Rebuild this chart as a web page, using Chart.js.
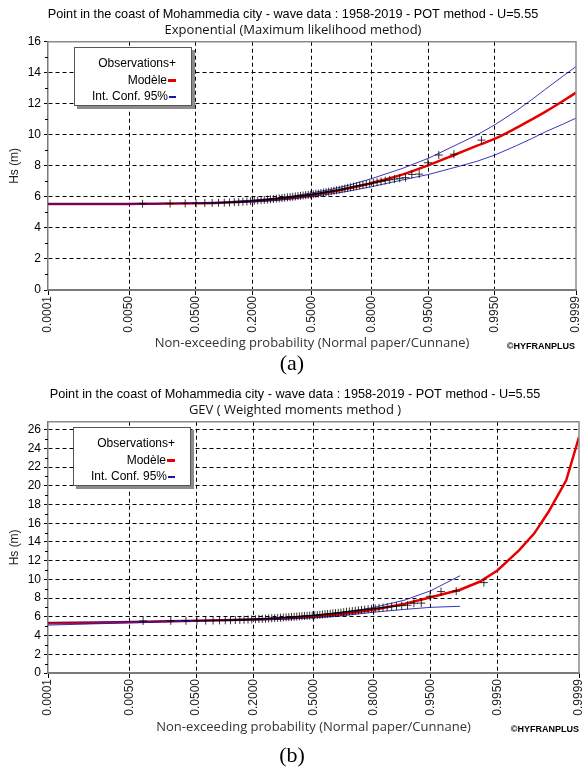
<!DOCTYPE html>
<html lang="fr">
<head>
<meta charset="utf-8">
<title>Mohammedia - HYFRAN</title>
<script src="https://cdn.jsdelivr.net/npm/chart.js@4.4.1/dist/chart.umd.min.js"></script>
<style>
    body{margin:0;background:#fff;}
    .pagina{position:relative;width:584px;height:769px;overflow:hidden;background:#fff;}
    .caja{position:absolute;left:0;width:584px;}
    .leyenda{position:absolute;width:101px;height:50px;padding:7px 15px 0 0;background:#fff;border:1px solid #555;box-shadow:3px 3px 0 #8c8c8c;font:12px "Liberation Sans",Arial,sans-serif;line-height:16.5px;text-align:right;color:#000;}
    .rojo{display:inline-block;width:8px;height:2.5px;background:#e60000;vertical-align:middle;margin-left:1px;}
    .azul{display:inline-block;width:7px;height:1.5px;background:#1414b0;vertical-align:middle;margin-left:1px;}
    .rotulo{position:absolute;left:0;width:584px;text-align:center;font:22px "Liberation Serif",serif;line-height:24px;color:#000;}
</style>
</head>
<body>
<div class="pagina">

    <div class="caja" style="top:0;height:358px;"><canvas id="graficoExp"></canvas></div>
    <div class="leyenda" style="left:74px;top:47px;">Observations+<br>Modèle<span class="rojo"></span><br>Int. Conf. 95%<span class="azul"></span></div>
    <div class="rotulo" style="top:351px;">(a)</div>

    <div class="caja" style="top:380px;height:362px;"><canvas id="graficoGev"></canvas></div>
    <div class="leyenda" style="left:73px;top:427px;">Observations+<br>Modèle<span class="rojo"></span><br>Int. Conf. 95%<span class="azul"></span></div>
    <div class="rotulo" style="top:743px;">(b)</div>

</div>
<script>

// Eje X (papel normal)

const probTicksX = [0.0001, 0.005, 0.05, 0.2, 0.5, 0.8, 0.95, 0.995, 0.9999];

const etiquetasX = ["0.0001", "0.0050", "0.0500", "0.2000", "0.5000", "0.8000", "0.9500", "0.9950", "0.9999"];

// Eje Y

const ticksYExp = [0, 2, 4, 6, 8, 10, 12, 14, 16];

const ticksYGev = [0, 2, 4, 6, 8, 10, 12, 14, 16, 18, 20, 22, 24, 26];

// Observaciones (Cunnane)

const probObservaciones = [
    0.0085, 0.0228, 0.0370, 0.0513, 0.0655, 0.0798, 0.0940, 0.1083, 0.1225, 0.1368,
    0.1510, 0.1652, 0.1795, 0.1937, 0.2080, 0.2222, 0.2365, 0.2507, 0.2650, 0.2792,
    0.2934, 0.3077, 0.3219, 0.3362, 0.3504, 0.3647, 0.3789, 0.3932, 0.4074, 0.4217,
    0.4359, 0.4501, 0.4644, 0.4786, 0.4929, 0.5071, 0.5214, 0.5356, 0.5499, 0.5641,
    0.5783, 0.5926, 0.6068, 0.6211, 0.6353, 0.6496, 0.6638, 0.6781, 0.6923, 0.7066,
    0.7208, 0.7350, 0.7493, 0.7635, 0.7778, 0.7920, 0.8063, 0.8205, 0.8348, 0.8490,
    0.8632, 0.8775, 0.8917, 0.9060, 0.9202, 0.9345, 0.9487, 0.9630, 0.9772, 0.9915
];

const hsObservaciones = [
    5.56, 5.57, 5.58, 5.59, 5.60, 5.61, 5.62, 5.63, 5.64, 5.66,
    5.67, 5.69, 5.71, 5.73, 5.75, 5.77, 5.79, 5.81, 5.83, 5.85,
    5.87, 5.89, 5.91, 5.93, 5.95, 5.97, 5.99, 6.01, 6.03, 6.05,
    6.07, 6.09, 6.11, 6.13, 6.15, 6.17, 6.20, 6.22, 6.25, 6.28,
    6.31, 6.34, 6.37, 6.40, 6.43, 6.46, 6.50, 6.54, 6.58, 6.62,
    6.66, 6.70, 6.74, 6.78, 6.82, 6.86, 6.90, 6.95, 7.00, 7.05,
    7.10, 7.15, 7.20, 7.24, 7.45, 7.47, 8.20, 8.70, 8.75, 9.66
];

// Modelo ajustado

const probModelo = [
    0.0001, 0.001, 0.005, 0.01, 0.02, 0.05, 0.1, 0.2, 0.3, 0.4, 0.5, 0.6,
    0.7, 0.8, 0.9, 0.95, 0.98, 0.99, 0.995, 0.998, 0.999, 0.9995, 0.9998, 0.9999
];

const modeloExp = [
    5.55, 5.55, 5.55, 5.56, 5.57, 5.59, 5.63, 5.72, 5.83, 5.96, 6.12, 6.31,
    6.55, 6.90, 7.45, 8.05, 8.80, 9.30, 9.75, 10.45, 10.98, 11.50, 12.20, 12.72
];

const icSupExp = [
    5.55, 5.55, 5.55, 5.56, 5.57, 5.60, 5.66, 5.79, 5.92, 6.07, 6.26, 6.47,
    6.76, 7.18, 7.85, 8.50, 9.40, 10.00, 10.65, 11.55, 12.25, 12.95, 13.80, 14.40
];

const icInfExp = [
    5.55, 5.55, 5.55, 5.55, 5.56, 5.58, 5.61, 5.67, 5.76, 5.88, 6.02, 6.18,
    6.38, 6.66, 7.10, 7.45, 7.95, 8.30, 8.70, 9.30, 9.75, 10.20, 10.70, 11.08
];

const modeloGev = [
    5.32, 5.38, 5.45, 5.49, 5.53, 5.59, 5.64, 5.72, 5.80, 5.90, 6.02, 6.18,
    6.42, 6.77, 7.40, 8.10, 8.90, 9.75, 10.96, 13.10, 14.90, 17.20, 20.60, 25.20
];

const probIcGev = [
    0.0001, 0.001, 0.005, 0.01, 0.02, 0.05, 0.1, 0.2, 0.3, 0.4, 0.5, 0.6,
    0.7, 0.8, 0.9, 0.95, 0.98
];

const icSupGev = [
    5.42, 5.45, 5.50, 5.52, 5.56, 5.62, 5.68, 5.78, 5.88, 6.00, 6.15, 6.35,
    6.60, 7.00, 7.80, 8.80, 10.40
];

const icInfGev = [
    5.12, 5.25, 5.35, 5.40, 5.46, 5.54, 5.60, 5.66, 5.72, 5.80, 5.90, 6.02,
    6.22, 6.50, 6.80, 7.02, 7.13
];


// Inversa de la normal (papel de probabilidad)

function probit(p){

    const a = [-3.969683028665376e+01, 2.209460984245205e+02, -2.759285104469687e+02, 1.383577518672690e+02, -3.066479806614716e+01, 2.506628277459239e+00];
    const b = [-5.447609879822406e+01, 1.615858368580409e+02, -1.556989798598866e+02, 6.680131188771972e+01, -1.328068155288572e+01];
    const c = [-7.784894002430293e-03, -3.223964580411365e-01, -2.400758277161838e+00, -2.549732539343734e+00, 4.374664141464968e+00, 2.938163982698783e+00];
    const d = [7.784695709041462e-03, 3.224671290700398e-01, 2.445134137142996e+00, 3.754408661907416e+00];

    const cola = function(q){
        return (((((c[0]*q+c[1])*q+c[2])*q+c[3])*q+c[4])*q+c[5]) / ((((d[0]*q+d[1])*q+d[2])*q+d[3])*q+1);
    };

    if(p < 0.02425){
        return cola(Math.sqrt(-2*Math.log(p)));
    }

    if(p > 1 - 0.02425){
        return -cola(Math.sqrt(-2*Math.log(1-p)));
    }

    const q = p - 0.5;
    const r = q*q;

    return (((((a[0]*r+a[1])*r+a[2])*r+a[3])*r+a[4])*r+a[5])*q / (((((b[0]*r+b[1])*r+b[2])*r+b[3])*r+b[4])*r+1);

}

// Escala "papel normal": valores en probabilidad, posición lineal en probit

class EscalaNormal extends Chart.LinearScale {

    static id = "normalpaper";

    static defaults = {};

    determineDataLimits(){
        this.min = probit(this.options.min);
        this.max = probit(this.options.max);
    }

    buildTicks(){
        this.start = this.min;
        this.end = this.max;
        return probTicksX.map(function(v){ return { value: v }; });
    }

    getPixelForValue(value){
        if(value === null || value === undefined) return NaN;
        return super.getPixelForValue(probit(value));
    }

}

Chart.register(EscalaNormal);


// Marco, ticks menores y sello

const marco = {

    id: "marco",

    afterDraw(chart, args, opts){

        const ctx = chart.ctx;
        const a = chart.chartArea;
        const y = chart.scales.y;

        ctx.save();

        ctx.strokeStyle = "#8a8a8a";
        ctx.lineWidth = 1.5;
        ctx.beginPath();
        ctx.moveTo(a.left, a.top);
        ctx.lineTo(a.right, a.top);
        ctx.lineTo(a.right, a.bottom);
        ctx.stroke();

        ctx.strokeStyle = "#000";
        ctx.lineWidth = 1;
        const v = y.ticks.map(function(t){ return t.value; });
        for(let i = 0; i < v.length - 1; i++){
            const yy = Math.round(y.getPixelForValue((v[i] + v[i+1]) / 2)) + 0.5;
            ctx.beginPath();
            ctx.moveTo(a.left - 3, yy);
            ctx.lineTo(a.left, yy);
            ctx.stroke();
        }

        ctx.fillStyle = "#000";
        ctx.font = 'bold 9px "Liberation Sans", Arial, sans-serif';
        ctx.textAlign = "right";
        ctx.textBaseline = "middle";
        ctx.fillText("©HYFRANPLUS", chart.width - opts.derecha, opts.selloY);

        ctx.restore();

    }

};


function puntos(xs, ys){
    return xs.map(function(x, i){ return { x: x, y: ys[i] }; });
}

Chart.defaults.font.family = '"Liberation Sans", Arial, sans-serif';
Chart.defaults.font.size = 12;
Chart.defaults.color = "#000";


function grafico(idCanvas, p){

    return new Chart(document.getElementById(idCanvas), {

        type: "line",

        plugins: [marco],

        data: {

            datasets: [

                {
                    label: "Observations",
                    data: puntos(probObservaciones, hsObservaciones),
                    showLine: false,
                    pointStyle: "cross",
                    pointRadius: 4,
                    pointBorderWidth: 1,
                    pointBorderColor: "rgba(0,0,0,.8)"
                },

                {
                    label: "Int. Conf. 95% sup",
                    data: puntos(p.probIc, p.icSup),
                    borderColor: "rgba(20,20,176,.85)",
                    borderWidth: 1,
                    pointRadius: 0
                },

                {
                    label: "Int. Conf. 95% inf",
                    data: puntos(p.probIc, p.icInf),
                    borderColor: "rgba(20,20,176,.85)",
                    borderWidth: 1,
                    pointRadius: 0
                },

                {
                    label: "Modèle",
                    data: puntos(probModelo, p.modelo),
                    borderColor: "#e60000",
                    borderWidth: 2.5,
                    pointRadius: 0,
                    cubicInterpolationMode: p.suave ? "monotone" : "default",
                    tension: 0
                }

            ]

        },

        options: {

            responsive: true,

            maintainAspectRatio: false,

            animation: false,

            events: [],

            layout: {
                padding: { left: 10, right: p.derecha, top: 0, bottom: 0 }
            },

            plugins: {

                legend: { display: false },

                tooltip: { enabled: false },

                title: {
                    display: true,
                    text: "Point in the coast of Mohammedia city - wave data : 1958-2019 - POT method - U=5.55",
                    color: "#000",
                    font: { size: 12.7, weight: "normal", lineHeight: 1.3 },
                    padding: { top: 6, bottom: 0 }
                },

                subtitle: {
                    display: true,
                    text: p.subtitulo,
                    color: "#111",
                    font: { family: '"Open Sans", sans-serif', size: 13, lineHeight: 1.25 },
                    padding: { top: 0, bottom: 3 }
                },

                marco: { derecha: p.derecha + 1, selloY: p.selloY }

            },

            scales: {

                x: {

                    type: "normalpaper",

                    min: 0.0001,

                    max: 0.9999,

                    afterFit: function(s){
                        s.height = p.altoEjeX;
                        s.paddingLeft = 0;
                        s.paddingRight = 0;
                    },

                    ticks: {
                        autoSkip: false,
                        minRotation: 90,
                        maxRotation: 90,
                        padding: 1,
                        color: "#222",
                        callback: function(v, i){ return etiquetasX[i]; }
                    },

                    grid: {
                        color: function(c){
                            return (c.index === 0 || c.index === probTicksX.length - 1) ? "rgba(0,0,0,0)" : "#000";
                        },
                        tickLength: 5,
                        tickColor: "#000"
                    },

                    border: { color: "#7a7a7a", width: 2, dash: [4, 3] },

                    title: {
                        display: true,
                        text: "Non-exceeding probability (Normal paper/Cunnane)",
                        color: "#333",
                        font: { family: '"Open Sans", sans-serif', size: 13 },
                        padding: { top: 0, bottom: 7 }
                    }

                },

                y: {

                    min: 0,

                    max: p.maxY,

                    afterBuildTicks: function(s){
                        s.ticks = p.ticksY.map(function(v){ return { value: v }; });
                    },

                    afterFit: function(s){
                        s.width = 38;
                    },

                    ticks: { autoSkip: false, padding: 3, color: "#000" },

                    grid: {
                        color: function(c){
                            return (c.tick && (c.tick.value === 0 || c.tick.value === p.maxY)) ? "rgba(0,0,0,0)" : "#000";
                        },
                        tickLength: 4,
                        tickColor: "#000"
                    },

                    border: { color: "#7a7a7a", width: 1.5, dash: [4, 3] },

                    title: {
                        display: true,
                        text: "Hs (m)",
                        color: "#222",
                        padding: { top: -3, bottom: 0 }
                    }

                }

            }

        }

    });

}


// (a) Exponencial

grafico("graficoExp", {
    subtitulo: "Exponential (Maximum likelihood method)",
    modelo: modeloExp,
    probIc: probModelo,
    icSup: icSupExp,
    icInf: icInfExp,
    ticksY: ticksYExp,
    maxY: 16,
    altoEjeX: 68,
    derecha: 8,
    selloY: 347,
    suave: true
});

// (b) GEV

grafico("graficoGev", {
    subtitulo: "GEV ( Weighted moments method )",
    modelo: modeloGev,
    probIc: probIcGev,
    icSup: icSupGev,
    icInf: icInfGev,
    ticksY: ticksYGev,
    maxY: 26.85,
    altoEjeX: 69,
    derecha: 4,
    selloY: 350,
    suave: false
});

</script>
</body>
</html>
